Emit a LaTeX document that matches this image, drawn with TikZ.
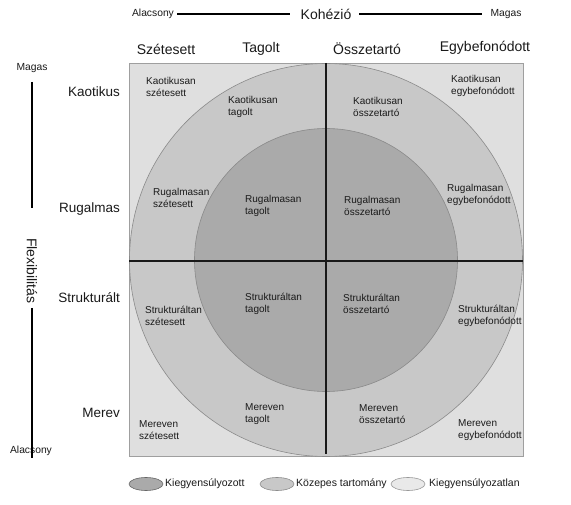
\documentclass[tikz,border=0pt]{standalone}
\usepackage{fontspec}
\setmainfont{Liberation Sans}
\usetikzlibrary{shapes.geometric}
\definecolor{lightc}{HTML}{DFDFDF}
\definecolor{midc}{HTML}{C8C8C8}
\definecolor{darkc}{HTML}{AAAAAA}
\definecolor{edgec}{HTML}{8A8A8A}
\definecolor{txtc}{HTML}{1A1A1A}
\begin{document}
\begin{tikzpicture}[x=1pt,y=-1pt,
  cell/.style={align=left, font=\fontsize{10}{12}\selectfont, anchor=west, inner sep=0pt, text=txtc},
  collab/.style={font=\fontsize{14}{16}\selectfont, inner sep=0pt, text=txtc},
  rowlab/.style={font=\fontsize{13.5}{16}\selectfont, anchor=east, inner sep=0pt, text=txtc},
  axsmall/.style={font=\fontsize{10.3}{12}\selectfont, inner sep=0pt, text=txtc},
  legtext/.style={font=\fontsize{10.5}{12}\selectfont, anchor=west, inner sep=0pt, text=txtc},
  legell/.style={ellipse, minimum width=34pt, minimum height=13pt, inner sep=0pt, line width=0.6pt},
  axline/.style={line width=1.1pt, black}
]
\useasboundingbox (0,0) rectangle (571,505);
\fill[white] (0,0) rectangle (571,505);

% square and circles
\draw[fill=lightc, draw=gray!75, line width=0.7pt] (129,63) rectangle (523,456);
\draw[fill=midc, draw=edgec, line width=0.6pt] (326,260) circle[radius=196.5];
\draw[fill=darkc, draw=edgec, line width=0.6pt] (326,260) circle[radius=131.5];
\draw[line width=1.2pt, black!90] (326,63) -- (326,454);
\draw[line width=1.2pt, black!90] (129,261) -- (523,261);

% top axis
\node[axsmall] (alac) at (153,14) {Alacsony};
\node[font=\fontsize{14}{16}\selectfont, inner sep=0pt, text=txtc] (koh) at (326,14) {Kohézió};
\node[axsmall] (magt) at (506,14) {Magas};
\draw[axline] ([xshift=3pt]alac.east) -- ([xshift=-11pt]koh.west);
\draw[axline] ([xshift=8pt]koh.east) -- ([xshift=-8pt]magt.west);

% column labels
\node[collab] (c1) at (166,49) {Szétesett};
\node[collab] (c2) at (261,49) {Tagolt};
\node[collab] (c3) at (367,49) {Összetartó};
\node[collab] (c4) at (485,48) {Egybefonódott};

% left axis
\node[axsmall] (magl) at (32,68) {Magas};
\node[axsmall] (alacl) at (31,451) {Alacsony};
\node[font=\fontsize{14}{16}\selectfont, inner sep=0pt, text=txtc, rotate=-90] (flex) at (32,271) {Flexibilitás};
\draw[axline] (32,82) -- (32,208);
\draw[axline] (32,308) -- (32,458);

% row labels
\node[rowlab] (r1) at (120,92) {Kaotikus};
\node[rowlab] (r2) at (120,209) {Rugalmas};
\node[rowlab] (r3) at (120,298) {Strukturált};
\node[rowlab] (r4) at (120,413) {Merev};

% cells
\node[cell] (k1) at (146,87) {Kaotikusan\\szétesett};
\node[cell] (k2) at (228,107) {Kaotikusan\\tagolt};
\node[cell] (k3) at (353,107) {Kaotikusan\\összetartó};
\node[cell] (k4) at (451,86) {Kaotikusan\\egybefonódott};
\node[cell] (g1) at (153,198) {Rugalmasan\\szétesett};
\node[cell] (g2) at (245,206) {Rugalmasan\\tagolt};
\node[cell] (g3) at (344,206) {Rugalmasan\\összetartó};
\node[cell] (g4) at (447,195) {Rugalmasan\\egybefonódott};
\node[cell] (s1) at (145,316) {Strukturáltan\\szétesett};
\node[cell] (s2) at (245,304) {Strukturáltan\\tagolt};
\node[cell] (s3) at (343,304) {Strukturáltan\\összetartó};
\node[cell] (s4) at (458,316) {Strukturáltan\\egybefonódott};
\node[cell] (m1) at (139,430) {Mereven\\szétesett};
\node[cell] (m2) at (245,414) {Mereven\\tagolt};
\node[cell] (m3) at (359,414) {Mereven\\összetartó};
\node[cell] (m4) at (458,430) {Mereven\\egybefonódott};

% legend
\node[legell, fill=darkc, draw=gray!80!black] (e1) at (146,484) {};
\node[legtext] (t1) at (165,484) {Kiegyensúlyozott};
\node[legell, fill=midc, draw=gray!90] (e2) at (277,484) {};
\node[legtext] (t2) at (296,484) {Közepes tartomány};
\node[legell, fill=lightc!70!white, draw=gray!80] (e3) at (408,484) {};
\node[legtext] (t3) at (429,484) {Kiegyensúlyozatlan};
\end{tikzpicture}
\end{document}
